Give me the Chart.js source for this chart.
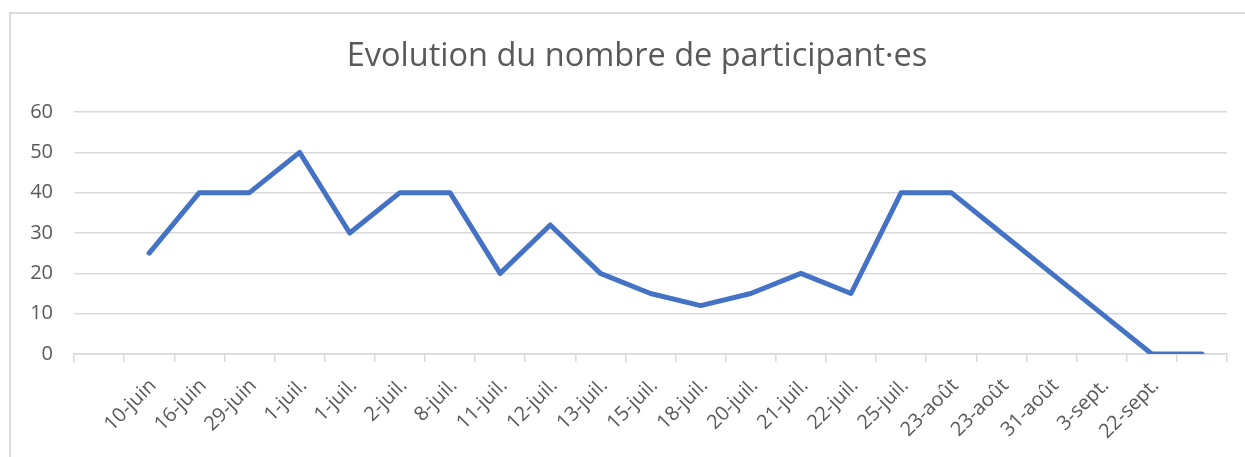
<!DOCTYPE html>
<html lang="fr">
<head>
<meta charset="utf-8">
<title>Evolution du nombre de participant·es</title>
<script src="https://cdn.jsdelivr.net/npm/chart.js@4/dist/chart.umd.min.js"></script>
<style>
  html, body { margin: 0; padding: 0; background: #fff; }
  #wrap { width: 1245px; height: 457px; position: relative; }
</style>
</head>
<body>
<div id="wrap"><canvas id="chart"></canvas></div>
<script>
// dates des séances (la première et la dernière catégorie n'ont pas d'étiquette)
const dates = ["", "10-juin", "16-juin", "29-juin", "1-juil.", "1-juil.", "2-juil.", "8-juil.", "11-juil.", "12-juil.", "13-juil.", "15-juil.", "18-juil.", "20-juil.", "21-juil.", "22-juil.", "25-juil.", "23-août", "23-août", "31-août", "3-sept.", "22-sept.", ""];
const participants = [null, 25, 40, 40, 50, 30, 40, 40, 20, 32, 20, 15, 12, 15, 20, 15, 40, 40, 30, 20, 10, 0, 0];
const yTicks = [0, 10, 20, 30, 40, 50, 60];

const textColor = "#595959";
const gridColor = "#d9d9d9";
const fontFamily = "'Open Sans', 'Noto Sans', sans-serif";

// cadre gris clair autour du graphique (comme dans Excel)
const frame = {
  id: "frame",
  beforeDraw(chart) {
    const ctx = chart.ctx;
    ctx.save();
    ctx.strokeStyle = gridColor;
    ctx.lineWidth = 2;
    ctx.beginPath();
    ctx.moveTo(10, chart.height);
    ctx.lineTo(10, 13);
    ctx.lineTo(chart.width, 13);
    ctx.stroke();
    ctx.restore();
  },
};

const ctx = document.getElementById("chart").getContext("2d");
new Chart(ctx, {
  type: "line",
  data: {
    labels: dates,
    datasets: [
      {
        label: "Participant·es",
        data: participants,
        borderColor: "#4472c4",
        backgroundColor: "#4472c4",
        borderWidth: 5,
        borderCapStyle: "round",
        borderJoinStyle: "round",
        pointRadius: 0,
        pointHoverRadius: 0,
        tension: 0,
      },
    ],
  },
  options: {
    responsive: true,
    maintainAspectRatio: false,
    animation: false,
    layout: {
      // padding gauche pour centrer le titre sur le cadre
      padding: { top: 22, right: 0, bottom: 0, left: 29 },
    },
    scales: {
      x: {
        offset: true,
        grid: {
          offset: true,
          drawOnChartArea: false,
          drawTicks: true,
          tickLength: 8,
          color: gridColor,
          lineWidth: 1.5,
        },
        border: { color: gridColor, width: 1.5 },
        ticks: {
          autoSkip: false,
          minRotation: 45,
          maxRotation: 45,
          padding: 12,
          labelOffset: 4,
          color: textColor,
          font: { family: fontFamily, size: 20 },
        },
        afterFit(scale) {
          scale.height = 103;
        },
      },
      y: {
        min: 0,
        max: 60,
        afterBuildTicks(scale) {
          scale.ticks = yTicks.map((v) => ({ value: v }));
        },
        grid: {
          color: gridColor,
          lineWidth: 1.5,
          drawTicks: false,
        },
        border: { display: false },
        ticks: {
          padding: 21,
          color: textColor,
          font: { family: fontFamily, size: 20 },
        },
        afterFit(scale) {
          scale.width = 45;
        },
      },
      // axe vide à droite : marge entre la zone de tracé et le bord
      yRight: {
        position: "right",
        min: 0,
        max: 60,
        grid: { display: false },
        border: { display: false },
        ticks: { display: false },
        afterFit(scale) {
          scale.width = 18;
        },
      },
    },
    plugins: {
      legend: { display: false },
      tooltip: { enabled: false },
      title: {
        display: true,
        text: "Evolution du nombre de participant·es",
        color: textColor,
        font: { family: fontFamily, size: 32.5, weight: "normal" },
        padding: { top: 15.5, bottom: 35.5 },
      },
    },
  },
  plugins: [frame],
});
</script>
</body>
</html>
